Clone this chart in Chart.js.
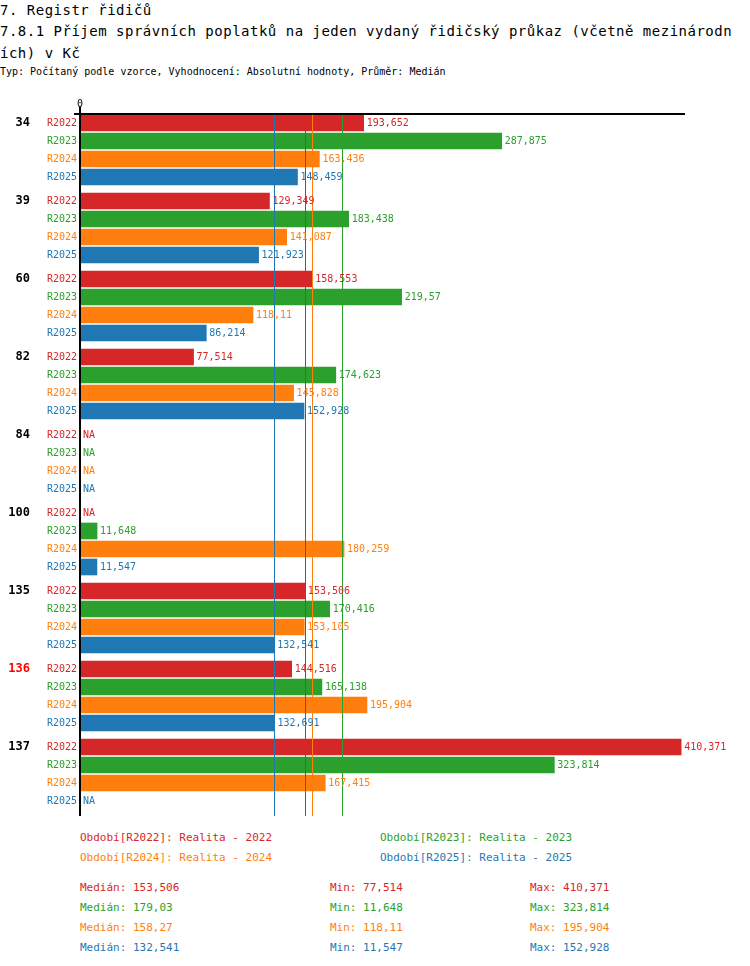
<!DOCTYPE html>
<html>
<head>
<meta charset="utf-8">
<script src="https://cdn.jsdelivr.net/npm/chart.js@4/dist/chart.umd.min.js"></script>
<style>
  body { margin: 0; background: #fff; font-family: "DejaVu Sans Mono", monospace; }
  #wrap { position: relative; width: 750px; height: 966px; }
  .t1 { position: absolute; left: 0; top: 0; font-size: 14px; line-height: 20px; letter-spacing: 0.5px; }
  .t2 { position: absolute; left: 0; top: 20px; width: 736px; font-size: 14px; line-height: 22px; letter-spacing: 0.5px; word-break: break-all; }
  .t3 { position: absolute; left: 0; top: 66px; font-size: 10px; }
  canvas { position: absolute; left: 0; top: 0; }
  .lg { position: absolute; font-size: 11px; white-space: pre; }
</style>
</head>
<body>
<div id="wrap">
  <div class="t1">7. Registr řidičů</div>
  <div class="t2">7.8.1 Příjem správních poplatků na jeden vydaný řidičský průkaz (včetně mezinárodních) v Kč</div>
  <div class="t3">Typ: Počítaný podle vzorce, Vyhodnocení: Absolutní hodnoty, Průměr: Medián</div>
  <div style="position:absolute;left:0;top:0;width:750px;height:830px"><canvas id="c"></canvas></div>
  <div id="legend"></div>
</div>
<script>
const groups = ["34", "39", "60", "82", "84", "100", "135", "136", "137"];
const highlighted = ["136"];
const series = ["R2022", "R2023", "R2024", "R2025"];
const colors = ["#d62728", "#2ca02c", "#ff7f0e", "#1f77b4"];
const legendNames = ["Realita - 2022", "Realita - 2023", "Realita - 2024", "Realita - 2025"];
const r2022 = [193.652, 129.349, 158.553, 77.514, null, null, 153.506, 144.516, 410.371];
const r2023 = [287.875, 183.438, 219.57, 174.623, null, 11.648, 170.416, 165.138, 323.814];
const r2024 = [163.436, 141.087, 118.11, 145.828, null, 180.259, 153.105, 195.904, 167.415];
const r2025 = [148.459, 121.923, 86.214, 152.928, null, 11.547, 132.541, 132.691, null];
const values = [r2022, r2023, r2024, r2025];

const step = 78 / 18;
const fmt = v => String(+v.toFixed(3)).replace(".", ",");
const median = a => {
  const s = a.filter(v => v != null).sort((x, y) => x - y);
  const m = Math.floor(s.length / 2);
  return s.length % 2 ? s[m] : (s[m - 1] + s[m]) / 2;
};
const stats = values.map(a => {
  const s = a.filter(v => v != null);
  return { med: median(a), min: Math.min(...s), max: Math.max(...s) };
});

const datasets = series.map((name, si) => ({
  label: name,
  data: groups.map((g, gi) => ({ x: values[si][gi], y: gi * step + si })),
  backgroundColor: colors[si],
  barThickness: 16,
  grouped: false
}));

const overlay = {
  id: "overlay",
  afterDatasetsDraw(chart) {
    const { ctx, chartArea: a, scales: { x, y } } = chart;
    ctx.save();
    // median lines
    stats.forEach((st, si) => {
      const px = Math.round(x.getPixelForValue(st.med)) + 0.5;
      ctx.strokeStyle = colors[si];
      ctx.lineWidth = 1;
      ctx.beginPath(); ctx.moveTo(px, a.top); ctx.lineTo(px, a.bottom); ctx.stroke();
    });
    // axes
    ctx.strokeStyle = "#000";
    ctx.lineWidth = 2;
    ctx.beginPath(); ctx.moveTo(a.left - 6, a.top); ctx.lineTo(a.right, a.top); ctx.stroke();
    ctx.beginPath(); ctx.moveTo(a.left, a.top - 8); ctx.lineTo(a.left, a.bottom); ctx.stroke();
    ctx.font = "10px 'DejaVu Sans Mono'";
    ctx.fillStyle = "#000";
    ctx.textAlign = "center"; ctx.textBaseline = "bottom";
    ctx.fillText("0", a.left, a.top - 5);
    ctx.textBaseline = "middle";
    groups.forEach((g, gi) => {
      const gy = y.getPixelForValue(gi * step);
      ctx.font = "bold 12px 'DejaVu Sans Mono'";
      ctx.textAlign = "right";
      ctx.fillStyle = highlighted.includes(g) ? "#ff0000" : "#000";
      ctx.fillText(g, 30, gy);
      series.forEach((s, si) => {
        const py = y.getPixelForValue(gi * step + si);
        const v = values[si][gi];
        ctx.font = "10px 'DejaVu Sans Mono'";
        ctx.fillStyle = colors[si];
        ctx.textAlign = "right";
        ctx.fillText(s, a.left - 3, py);
        ctx.textAlign = "left";
        if (v == null) ctx.fillText("NA", a.left + 3, py);
        else ctx.fillText(fmt(v), x.getPixelForValue(v) + 3, py);
      });
    });
    ctx.restore();
  }
};

new Chart(document.getElementById("c"), {
  type: "bar",
  data: { datasets },
  options: {
    indexAxis: "y",
    responsive: true,
    maintainAspectRatio: false,
    animation: false,
    layout: { padding: { left: 80, right: 65, top: 114, bottom: 14 } },
    scales: {
      x: { display: false, min: 0, max: 413 },
      y: { type: "linear", display: false, offset: false, min: -0.5, max: 38.5, reverse: true }
    },
    plugins: { legend: { display: false }, tooltip: { enabled: false } }
  },
  plugins: [overlay]
});

// legend and statistics
const lg = document.getElementById("legend");
const add = (txt, left, top, color) => {
  const d = document.createElement("div");
  d.className = "lg";
  d.style.left = left + "px"; d.style.top = top + "px"; d.style.color = color;
  d.textContent = txt;
  lg.appendChild(d);
};
series.forEach((s, si) => {
  add("Období[" + s + "]: " + legendNames[si], si % 2 ? 380 : 80, 831 + Math.floor(si / 2) * 20, colors[si]);
  const st = stats[si];
  add("Medián: " + fmt(st.med), 80, 881 + si * 20, colors[si]);
  add("Min: " + fmt(st.min), 330, 881 + si * 20, colors[si]);
  add("Max: " + fmt(st.max), 530, 881 + si * 20, colors[si]);
});
</script>
</body>
</html>
